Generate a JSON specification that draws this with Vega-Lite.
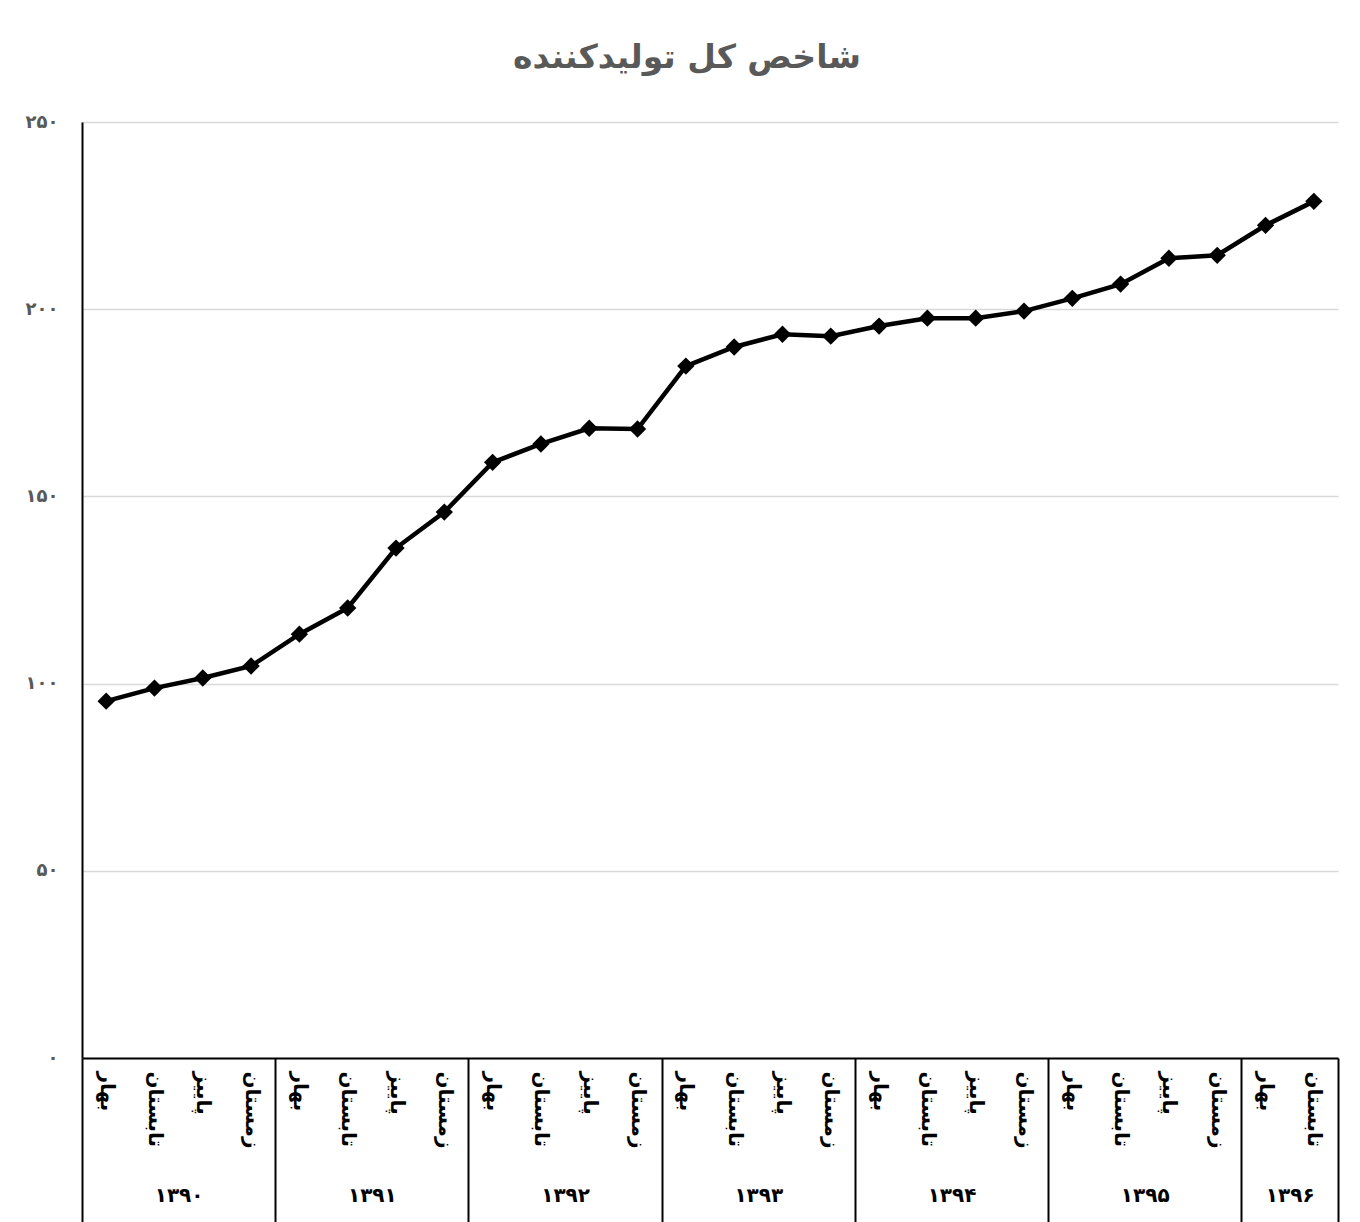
{
  "$schema": "https://vega.github.io/schema/vega-lite/v6.json",
  "width": 1256,
  "height": 936,
  "autosize": "none",
  "padding": {"left": 82, "top": 122, "right": 22, "bottom": 164},
  "background": "white",
  "config": {
    "view": {"stroke": null},
    "font": "DejaVu Sans"
  },
  "title": {
    "text": "شاخص کل تولیدکننده",
    "font": "DejaVu Sans",
    "fontSize": 33,
    "fontWeight": "bold",
    "color": "#595959",
    "anchor": "middle",
    "frame": "group",
    "dx": -23,
    "offset": 38
  },
  "data": {
    "values": [
      {"t": 1, "year": "۱۳۹۰", "season": "بهار", "value": 95.3},
      {"t": 2, "year": "۱۳۹۰", "season": "تابستان", "value": 98.8},
      {"t": 3, "year": "۱۳۹۰", "season": "پاییز", "value": 101.5},
      {"t": 4, "year": "۱۳۹۰", "season": "زمستان", "value": 104.7},
      {"t": 5, "year": "۱۳۹۱", "season": "بهار", "value": 113.2},
      {"t": 6, "year": "۱۳۹۱", "season": "تابستان", "value": 120.2},
      {"t": 7, "year": "۱۳۹۱", "season": "پاییز", "value": 136.2},
      {"t": 8, "year": "۱۳۹۱", "season": "زمستان", "value": 145.8},
      {"t": 9, "year": "۱۳۹۲", "season": "بهار", "value": 159.1},
      {"t": 10, "year": "۱۳۹۲", "season": "تابستان", "value": 164.0},
      {"t": 11, "year": "۱۳۹۲", "season": "پاییز", "value": 168.2},
      {"t": 12, "year": "۱۳۹۲", "season": "زمستان", "value": 168.0},
      {"t": 13, "year": "۱۳۹۳", "season": "بهار", "value": 184.8},
      {"t": 14, "year": "۱۳۹۳", "season": "تابستان", "value": 189.9},
      {"t": 15, "year": "۱۳۹۳", "season": "پاییز", "value": 193.3},
      {"t": 16, "year": "۱۳۹۳", "season": "زمستان", "value": 192.8},
      {"t": 17, "year": "۱۳۹۴", "season": "بهار", "value": 195.5},
      {"t": 18, "year": "۱۳۹۴", "season": "تابستان", "value": 197.6},
      {"t": 19, "year": "۱۳۹۴", "season": "پاییز", "value": 197.6},
      {"t": 20, "year": "۱۳۹۴", "season": "زمستان", "value": 199.5},
      {"t": 21, "year": "۱۳۹۵", "season": "بهار", "value": 202.9},
      {"t": 22, "year": "۱۳۹۵", "season": "تابستان", "value": 206.7},
      {"t": 23, "year": "۱۳۹۵", "season": "پاییز", "value": 213.6},
      {"t": 24, "year": "۱۳۹۵", "season": "زمستان", "value": 214.4},
      {"t": 25, "year": "۱۳۹۶", "season": "بهار", "value": 222.4},
      {"t": 26, "year": "۱۳۹۶", "season": "تابستان", "value": 228.8}
    ]
  },
  "layer": [
    {
      "mark": {"type": "line", "color": "black", "strokeWidth": 4.5},
      "encoding": {
        "x": {
          "field": "t",
          "type": "quantitative",
          "scale": {"domain": [0.5, 26.5], "nice": false, "zero": false},
          "axis": {
            "orient": "bottom",
            "title": null,
            "grid": false,
            "domain": true,
            "domainColor": "black",
            "domainWidth": 2,
            "values": [0.5, 1, 2, 3, 4, 4.5, 5, 6, 7, 8, 8.5, 9, 10, 11, 12, 12.5, 13, 14, 15, 16, 16.5, 17, 18, 19, 20, 20.5, 21, 22, 23, 24, 24.5, 25, 26, 26.5],
            "ticks": true,
            "tickSize": 164,
            "tickWidth": 2,
            "tickColor": "black",
            "tickOpacity": {"condition": {"test": "datum.value % 1 != 0", "value": 1}, "value": 0},
            "labelExpr": "datum.value % 1 == 0 ? ['بهار','تابستان','پاییز','زمستان'][(datum.value - 1) % 4] : ''",
            "labelAngle": 90,
            "labelAlign": "left",
            "labelBaseline": "middle",
            "labelPadding": -151,
            "labelFont": "DejaVu Sans",
            "labelFontSize": 20,
            "labelFontWeight": "bold",
            "labelColor": "black",
            "labelOverlap": false,
            "labelFlush": false
          }
        },
        "y": {
          "field": "value",
          "type": "quantitative",
          "scale": {"domain": [0, 250], "nice": false},
          "axis": {
            "title": null,
            "values": [0, 50, 100, 150, 200, 250],
            "grid": true,
            "gridColor": "#d9d9d9",
            "gridWidth": 1.5,
            "domain": true,
            "domainColor": "black",
            "domainWidth": 2,
            "ticks": false,
            "labelPadding": 24,
            "labelExpr": "['۰','۵۰','۱۰۰','۱۵۰','۲۰۰','۲۵۰'][round(datum.value / 50)]",
            "labelFont": "DejaVu Sans",
            "labelFontSize": 18,
            "labelFontWeight": "bold",
            "labelColor": "#595959"
          }
        }
      }
    },
    {
      "mark": {"type": "point", "shape": "diamond", "filled": true, "color": "black", "size": 300, "opacity": 1},
      "encoding": {
        "x": {
          "field": "t",
          "type": "quantitative",
          "axis": {
            "orient": "bottom",
            "title": null,
            "grid": false,
            "domain": false,
            "ticks": false,
            "values": [2.5, 6.5, 10.5, 14.5, 18.5, 22.5, 25.5],
            "labelExpr": "['۱۳۹۰','۱۳۹۱','۱۳۹۲','۱۳۹۳','۱۳۹۴','۱۳۹۵','۱۳۹۶'][floor((datum.value - 1) / 4)]",
            "labelAngle": 0,
            "labelAlign": "center",
            "labelBaseline": "middle",
            "labelPadding": 137,
            "labelFont": "DejaVu Sans",
            "labelFontSize": 20,
            "labelFontWeight": "bold",
            "labelColor": "black",
            "labelOverlap": false,
            "labelFlush": false
          }
        },
        "y": {"field": "value", "type": "quantitative"}
      }
    }
  ],
  "resolve": {"axis": {"x": "independent"}}
}
